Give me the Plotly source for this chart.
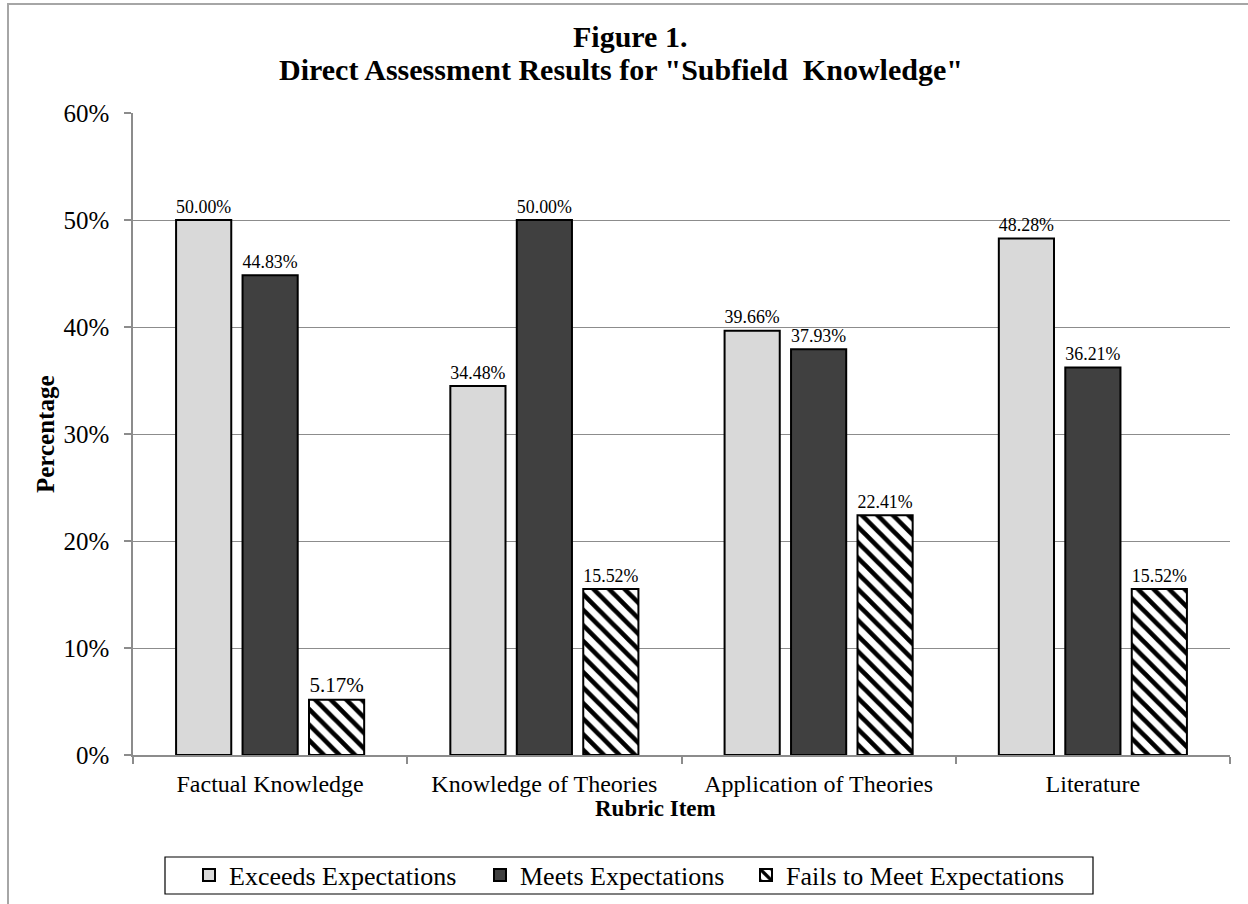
import plotly.graph_objects as go

FONT = 'Liberation Serif, Times New Roman, serif'
GRID = '#8c8c8c'

categories = ['Factual Knowledge', 'Knowledge of Theories', 'Application of Theories', 'Literature']
exceeds = [50.00, 34.48, 39.66, 48.28]
meets = [44.83, 50.00, 37.93, 36.21]
fails = [5.17, 15.52, 22.41, 15.52]

fig = go.Figure()

label_font = dict(family=FONT, size=21, color='black')

fig.add_trace(go.Bar(
    x=categories, y=exceeds, name='Exceeds Expectations', legend='legend', showlegend=True,
    marker=dict(color='#d9d9d9', line=dict(color='black', width=2)),
    texttemplate='%{y:.2f}%', textposition='outside',
    textfont=label_font, cliponaxis=False
))
fig.add_trace(go.Bar(
    x=categories, y=meets, name='Meets Expectations', legend='legend2', showlegend=True,
    marker=dict(color='#404040', line=dict(color='black', width=2)),
    texttemplate='%{y:.2f}%', textposition='outside',
    textfont=label_font, cliponaxis=False
))
fig.add_trace(go.Bar(
    x=categories, y=fails, name='Fails to Meet Expectations', legend='legend3', showlegend=True,
    marker=dict(color='white', line=dict(color='black', width=2),
                pattern=dict(shape='\\', fgcolor='black', bgcolor='white',
                             size=11, solidity=0.42, fgopacity=1)),
    texttemplate='%{y:.2f}%', textposition='outside',
    textfont=label_font, cliponaxis=False
))

# plot area in page pixels: x 133..1230, y 113..755
L, R, T, B = 133, 18, 113, 149
W, H = 1248, 904
pw, ph = W - L - R, H - T - B
def px(x): return (x - L) / pw
def py(y): return (H - B - y) / ph

annotations = [
    dict(text='<b>Figure 1.</b>', x=px(630), y=py(37), xanchor='center', yanchor='middle',
         font=dict(family=FONT, size=30)),
    dict(text='<b>Direct Assessment Results for "Subfield  Knowledge"</b>', x=px(621), y=py(69),
         xanchor='center', yanchor='middle', font=dict(family=FONT, size=30)),
    dict(text='<b>Percentage</b>', x=px(45), y=py(434), xanchor='center', yanchor='middle',
         textangle=-90, font=dict(family=FONT, size=25)),
    dict(text='<b>Rubric Item</b>', x=px(655), y=py(809), xanchor='center', yanchor='middle',
         font=dict(family=FONT, size=23)),
]
for a in annotations:
    a.update(xref='paper', yref='paper', showarrow=False)
    a['font']['color'] = 'black'

def legend_at(x_left):
    return dict(
        orientation='h', x=px(x_left), xanchor='left', y=py(875), yanchor='middle',
        borderwidth=0, bgcolor='rgba(0,0,0,0)', visible=True,
        font=dict(family=FONT, size=26, color='black'), itemwidth=30
    )

fig.update_layout(
    width=W, height=H,
    margin=dict(l=L, r=R, t=T, b=B, autoexpand=False),
    paper_bgcolor='white', plot_bgcolor='white',
    font=dict(family=FONT, color='black'),
    showlegend=True,
    barmode='group', bargap=0.273, bargroupgap=0.17,
    xaxis=dict(
        tickfont=dict(family=FONT, size=24, color='black'),
        showline=True, linecolor=GRID, linewidth=1.5,
        ticks='outside', tickson='boundaries', ticklen=7, tickcolor=GRID, tickwidth=1.5,
        ticklabelstandoff=6,
        showgrid=False, automargin=False
    ),
    yaxis=dict(
        range=[0, 60], dtick=10, ticksuffix='%',
        tickfont=dict(family=FONT, size=25, color='black'),
        showgrid=True, gridcolor=GRID, gridwidth=1.2,
        showline=True, linecolor=GRID, linewidth=1.5,
        ticks='outside', ticklen=7, tickcolor=GRID, tickwidth=1.5,
        ticklabelstandoff=10,
        zeroline=False, automargin=False
    ),
    legend=legend_at(189),
    legend2=legend_at(480),
    legend3=legend_at(746),
    annotations=annotations,
    shapes=[
        # outer chart border (runs off the right/bottom of the page in the original)
        dict(type='rect', xref='paper', yref='paper',
             x0=px(8), y0=py(925), x1=px(1262), y1=py(4),
             line=dict(color='#a6a6a6', width=2), fillcolor='rgba(0,0,0,0)', layer='below'),
        # legend box
        dict(type='rect', xref='paper', yref='paper',
             x0=px(165), y0=py(894), x1=px(1093), y1=py(857),
             line=dict(color='black', width=1.2), fillcolor='white', layer='below'),
    ]
)

fig.write_html('out.html', config={'displayModeBar': False},
               post_script="document.body.style.margin='0';")
